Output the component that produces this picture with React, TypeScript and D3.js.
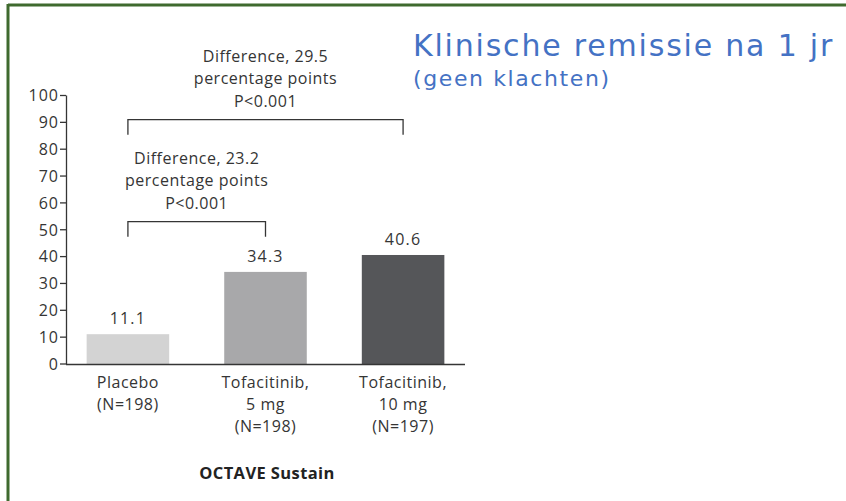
import React from 'react';
import * as d3 from 'd3';

const categories = ['Placebo', 'Tofacitinib, 5 mg', 'Tofacitinib, 10 mg'];
const categoryLines = [
  ['Placebo', '(N=198)'],
  ['Tofacitinib,', '5 mg', '(N=198)'],
  ['Tofacitinib,', '10 mg', '(N=197)'],
];
const remission = [11.1, 34.3, 40.6];
const barColors = ['#d3d3d3', '#a8a8aa', '#555659'];
const yTicks = [0, 10, 20, 30, 40, 50, 60, 70, 80, 90, 100];

// comparison brackets: from category index 0 to index "to", drawn at value "level"
const brackets = [
  { to: 2, level: 91, lines: ['Difference, 29.5', 'percentage points', 'P<0.001'] },
  { to: 1, level: 53, lines: ['Difference, 23.2', 'percentage points', 'P<0.001'] },
];

const W = 846;
const H = 501;
const chartFont = "'Open Sans', sans-serif";
const titleFont = "'DejaVu Sans', sans-serif";
const ink = '#353535';

const App = () => {
  const x = d3
    .scaleBand()
    .domain(categories)
    .range([66, 465])
    .paddingInner(0.4)
    .paddingOuter(0.15);

  const y = d3.scaleLinear().domain([0, 100]).range([364, 95.5]);
  const mid = (c: string) => x(c)! + x.bandwidth() / 2;

  return (
    <svg
      width={W}
      height={H}
      style={{ position: 'absolute', left: 0, top: 0, background: '#fff' }}
    >
      {/* green frame, top and left */}
      <line x1={8} y1={5} x2={W} y2={5} stroke="#3f6a2e" strokeWidth={3} />
      <line x1={8} y1={4} x2={8} y2={H} stroke="#3f6a2e" strokeWidth={3} />

      <text x={413} y={56} fill="#4472c4" fontFamily={titleFont} fontSize={30} letterSpacing={1.8}>
        Klinische remissie na 1 jr
      </text>
      <text x={413} y={86} fill="#4472c4" fontFamily={titleFont} fontSize={22} letterSpacing={1.6}>
        (geen klachten)
      </text>

      <g fontFamily={chartFont} fill={ink} fontSize={16} letterSpacing={0.5}>
        {/* bars */}
        {categories.map((c, i) => (
          <rect
            key={c}
            x={x(c)}
            y={y(remission[i])}
            width={x.bandwidth()}
            height={y(0) - y(remission[i])}
            fill={barColors[i]}
          />
        ))}
        {categories.map((c, i) => (
          <text
            key={c + '-v'}
            x={mid(c)}
            y={y(remission[i]) - 10}
            textAnchor="middle"
            letterSpacing={1.2}
          >
            {remission[i].toFixed(1)}
          </text>
        ))}

        {/* y axis */}
        <line x1={66.5} y1={y(100)} x2={66.5} y2={y(0)} stroke={ink} strokeWidth={1.3} />
        <line x1={66} y1={y(0) + 0.5} x2={465} y2={y(0) + 0.5} stroke={ink} strokeWidth={1.3} />
        {yTicks.map((t) => (
          <g key={t}>
            <line x1={60} y1={y(t)} x2={66} y2={y(t)} stroke={ink} strokeWidth={1.3} />
            <text x={59} y={y(t)} dy="0.36em" textAnchor="end" letterSpacing={1}>
              {t}
            </text>
          </g>
        ))}

        {/* category labels */}
        {categories.map((c, i) => (
          <text key={c + '-l'} textAnchor="middle">
            {categoryLines[i].map((ln, j) => (
              <tspan key={j} x={mid(c)} y={388 + j * 22}>
                {ln}
              </tspan>
            ))}
          </text>
        ))}

        {/* brackets */}
        {brackets.map((b, i) => {
          const x0 = mid(categories[0]);
          const x1 = mid(categories[b.to]);
          const yb = y(b.level);
          return (
            <g key={i}>
              <path
                d={`M${x0},${yb + 15}V${yb}H${x1}V${yb + 15}`}
                fill="none"
                stroke={ink}
                strokeWidth={1.3}
              />
              <text textAnchor="middle">
                {b.lines.map((ln, j) => (
                  <tspan key={j} x={(x0 + x1) / 2} y={yb - 58 + j * 22.5}>
                    {ln}
                  </tspan>
                ))}
              </text>
            </g>
          );
        })}

        <text x={267} y={479} textAnchor="middle" fontSize={16.5} fontWeight="bold" fill="#222" letterSpacing={0.4}>
          OCTAVE Sustain
        </text>
      </g>
    </svg>
  );
};

export default App;
